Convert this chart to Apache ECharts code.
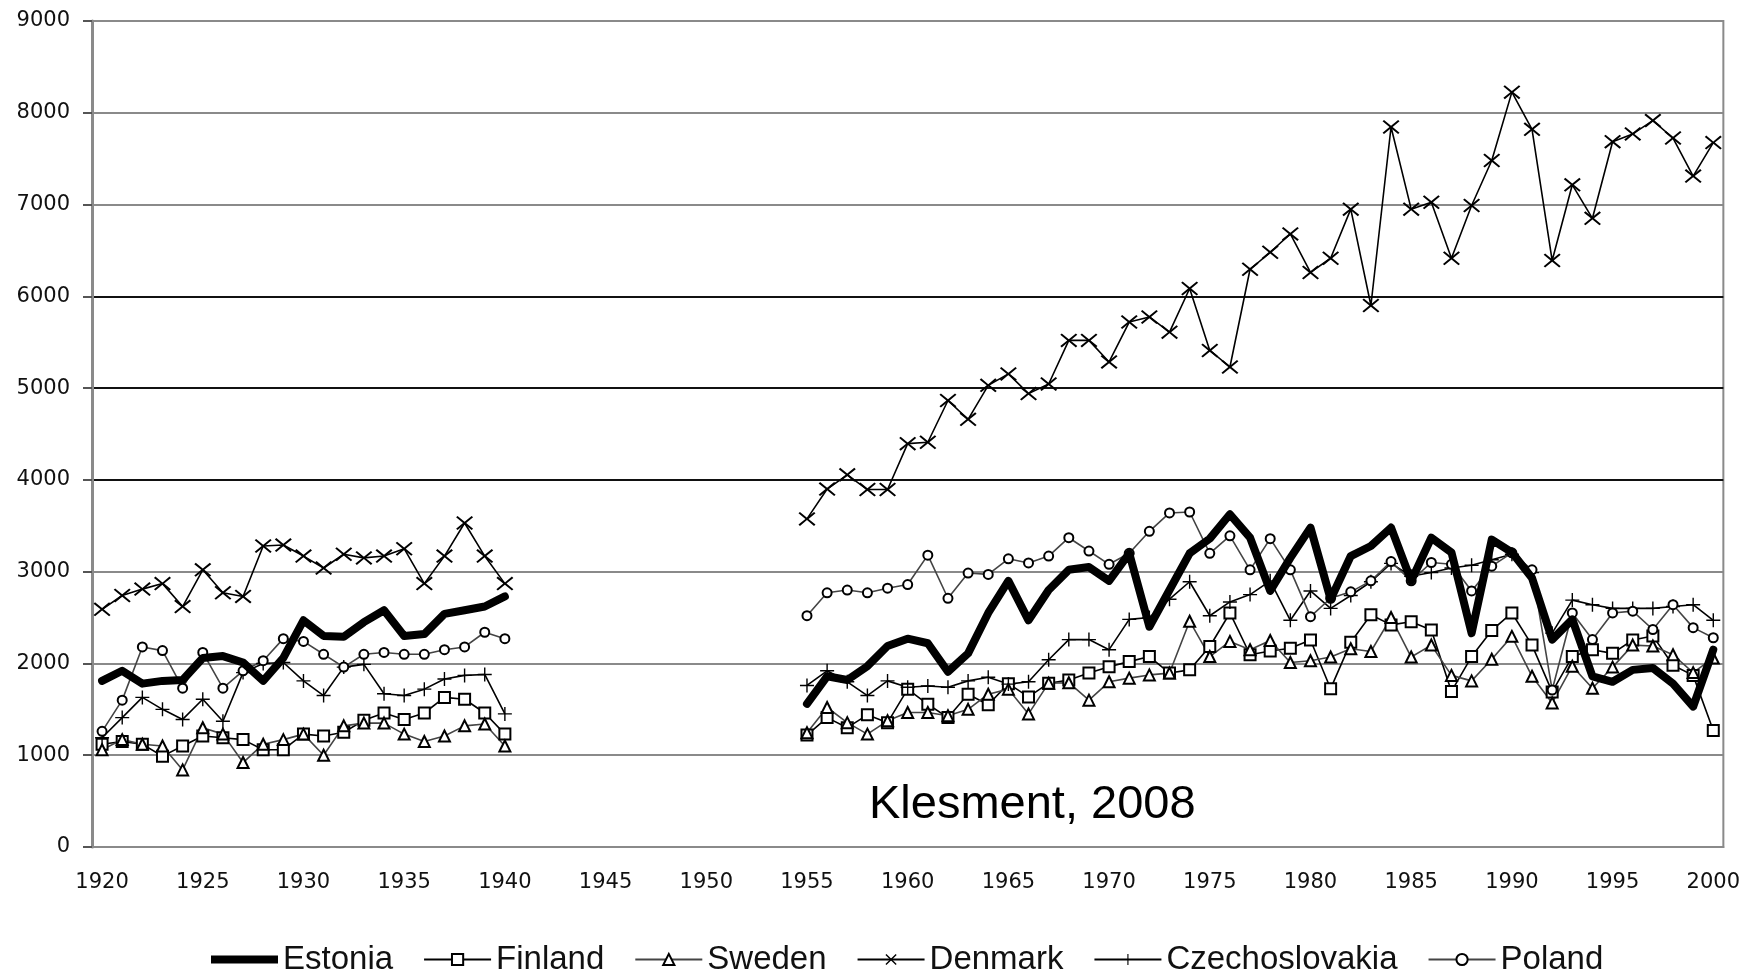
<!DOCTYPE html>
<html>
<head>
<meta charset="utf-8">
<title>Klesment 2008</title>
<script src="https://cdn.jsdelivr.net/npm/echarts@6/dist/echarts.min.js"></script>
<style>
  html, body { margin: 0; padding: 0; background: #fff; }
  #main { width: 1743px; height: 970px; }
</style>
</head>
<body>
<div id="main"></div>
<script>
'use strict';

// years on the category axis, 1920 - 2000
var firstYear = 1920;
var lastYear = 2000;
var yTicks = [0, 1000, 2000, 3000, 4000, 5000, 6000, 7000, 8000, 9000];

// 1920 - 1940
var estoniaPre = [1810, 1920, 1780, 1810, 1820, 2060, 2080, 2010, 1810, 2060, 2470, 2300, 2290, 2450, 2580, 2300, 2320, 2540, 2580, 2620, 2730];
var finlandPre = [1120, 1150, 1120, 990, 1100, 1210, 1190, 1170, 1060, 1060, 1230, 1210, 1250, 1380, 1460, 1390, 1460, 1630, 1610, 1460, 1230];
var swedenPre = [1060, 1170, 1120, 1100, 840, 1300, 1230, 920, 1120, 1170, 1230, 1000, 1320, 1350, 1350, 1230, 1150, 1210, 1320, 1340, 1100];
var denmarkPre = [2590, 2740, 2810, 2870, 2620, 3020, 2770, 2730, 3280, 3290, 3170, 3040, 3190, 3150, 3170, 3250, 2870, 3170, 3530, 3170, 2870];
var czechPre = [1190, 1410, 1630, 1500, 1390, 1610, 1370, 1900, 2000, 2010, 1810, 1650, 1960, 1990, 1670, 1650, 1720, 1830, 1870, 1880, 1450];
var polandPre = [1260, 1600, 2180, 2140, 1730, 2120, 1730, 1920, 2030, 2270, 2240, 2100, 1960, 2100, 2120, 2100, 2100, 2150, 2180, 2340, 2270];

// 1955 - 2000
var estoniaPost = [1560, 1860, 1820, 1970, 2190, 2270, 2220, 1910, 2110, 2550, 2900, 2470, 2800, 3020, 3050, 2900, 3200, 2400, 2800, 3200,
    3360, 3625, 3370, 2790, 3150, 3480, 2700, 3170, 3280, 3480, 2900, 3370, 3210, 2330, 3350, 3210, 2930, 2260, 2480, 1860,
    1800, 1930, 1950, 1780, 1530, 2150];
var finlandPost = [1220, 1410, 1300, 1440, 1355, 1720, 1555, 1410, 1665, 1550, 1780, 1635, 1785, 1820, 1895, 1965, 2020, 2075, 1895, 1930,
    2185, 2550, 2095, 2135, 2165, 2255, 1725, 2230, 2530, 2420, 2455, 2365, 1695, 2075, 2360, 2550, 2200, 1690, 2075, 2150,
    2110, 2255, 2300, 1980, 1870, 1270];
var swedenPost = [1245, 1520, 1355, 1230, 1375, 1465, 1465, 1430, 1500, 1665, 1720, 1450, 1785, 1790, 1600, 1800, 1840, 1875, 1895, 2460,
    2075, 2240, 2150, 2250, 2010, 2030, 2070, 2160, 2130, 2500, 2070, 2200, 1870, 1810, 2045, 2295, 1860, 1570, 1970, 1730,
    1960, 2200, 2190, 2095, 1900, 2060];
var denmarkPost = [3575, 3900, 4055, 3895, 3895, 4395, 4410, 4865, 4660, 5030, 5155, 4940, 5045, 5520, 5520, 5285, 5720, 5775, 5610, 6085,
    5410, 5230, 6295, 6480, 6680, 6260, 6415, 6950, 5900, 7845, 6950, 7025, 6415, 6990, 7480, 8225, 7820, 6390, 7215, 6850,
    7685, 7770, 7915, 7725, 7310, 7675];
var czechPost = [1760, 1920, 1800, 1650, 1810, 1740, 1755, 1740, 1810, 1850, 1775, 1800, 2040, 2260, 2260, 2150, 2480, 2500, 2700, 2890,
    2520, 2670, 2750, 2900, 2470, 2790, 2600, 2740, 2890, 3090, 2950, 2990, 3040, 3070, 3130, 3190, 2990, 2330, 2690, 2640,
    2600, 2600, 2600, 2620, 2640, 2470];
var polandPost = [2520, 2770, 2800, 2770, 2820, 2860, 3180, 2710, 2985, 2970, 3140, 3095, 3170, 3370, 3225, 3080, 3200, 3440, 3640, 3650,
    3200, 3390, 3020, 3360, 3020, 2510, 2710, 2780, 2900, 3110, 2900, 3100, 3080, 2790, 3060, 3205, 3020, 1710, 2550, 2260,
    2550, 2570, 2370, 2640, 2390, 2280];

var FONT = 'Liberation Sans, Arial, sans-serif';
var TICK_FONT = 'DejaVu Sans, Verdana, sans-serif';
var crossPath = 'path://M0,1.2L1.2,0L7,5.2L12.8,0L14,1.2L8.3,6.3L14,11.4L12.8,12.6L7,7.4L1.2,12.6L0,11.4L5.7,6.3Z';
var plusPath = 'path://M6.3,0H7.7V6.3H14V7.7H7.7V14H6.3V7.7H0V6.3H6.3Z';
// thick bar for the Estonia legend key; the two specks keep the box 67 x 14
var barPath = 'path://M0,0H0.2V0.2H0Z M0,3H67V11H0Z M66.8,13.8H67V14H66.8Z';

$main();

function $main() {
    var years = [];
    for (var y = firstYear; y <= lastYear; y++) {
        years.push(String(y));
    }
    var gapLength = 1955 - 1940 - 1;

    // prewar + empty war years + postwar
    function joinPeriods(pre, post) {
        var gap = [];
        for (var i = 0; i < gapLength; i++) {
            gap.push(null);
        }
        return pre.concat(gap, post);
    }

    function lineSeries(name, pre, post, opts) {
        return Object.assign({
            name: name,
            type: 'line',
            data: joinPeriods(pre, post),
            connectNulls: false,
            showAllSymbol: true,
            animation: false,
            itemStyle: { color: '#000', borderWidth: 1.5 },
            lineStyle: { color: '#000', width: 1.6 }
        }, opts);
    }

    // gridline shades as in the scan: outer lines grey, middle lines black
    var gridColors = ['#8a8a8a', '#8a8a8a', '#8a8a8a', '#8a8a8a', '#111', '#111', '#111', '#8a8a8a', '#8a8a8a', '#8a8a8a'];

    var myChart = echarts.init(document.getElementById('main'));
    var option = {
        backgroundColor: '#fff',
        animation: false,
        grid: {
            left: 92,
            right: 18,
            top: 21,
            bottom: 123,
            show: true,
            borderColor: '#8a8a8a',
            borderWidth: 2
        },
        legend: {
            top: 938,
            left: 206,
            itemWidth: 67,
            itemHeight: 14,
            itemGap: 30,
            textStyle: { fontFamily: FONT, fontSize: 33, color: '#111' },
            data: [
                { name: 'Estonia', icon: barPath, itemStyle: { color: '#000' } },
                'Finland', 'Sweden', 'Denmark', 'Czechoslovakia', 'Poland'
            ]
        },
        xAxis: {
            type: 'category',
            data: years,
            boundaryGap: true,
            axisLine: { lineStyle: { color: '#8a8a8a', width: 2 } },
            axisTick: { interval: 0, length: 6, lineStyle: { color: '#333', width: 2 } },
            axisLabel: {
                interval: 4,
                margin: 25,
                fontFamily: TICK_FONT,
                fontSize: 21,
                color: '#111'
            },
            splitLine: { show: false }
        },
        yAxis: {
            type: 'value',
            min: yTicks[0],
            max: yTicks[yTicks.length - 1],
            interval: 1000,
            axisLine: { show: true, lineStyle: { color: '#8a8a8a', width: 3 } },
            axisTick: { show: true, length: 9, lineStyle: { color: '#555', width: 2 } },
            axisLabel: {
                margin: 22,
                fontFamily: TICK_FONT,
                fontSize: 21,
                color: '#111',
                formatter: function(value) {
                    return String(value);
                }
            },
            splitLine: { lineStyle: { color: gridColors, width: 2 } }
        },
        graphic: [{
            type: 'text',
            left: 1034 - 165,
            top: 801 - 19,
            style: {
                text: 'Klesment, 2008',
                fontFamily: FONT,
                fontSize: 47,
                fill: '#000'
            }
        }],
        series: [
            lineSeries('Estonia', estoniaPre, estoniaPost, {
                symbol: 'none',
                z: 4,
                lineStyle: { color: '#000', width: 8, join: 'round', cap: 'round' }
            }),
            lineSeries('Finland', finlandPre, finlandPost, {
                symbol: 'emptyRect',
                symbolSize: 11
            }),
            lineSeries('Sweden', swedenPre, swedenPost, {
                symbol: 'emptyTriangle',
                symbolSize: 11,
                lineStyle: { color: '#444', width: 1.6 }
            }),
            lineSeries('Denmark', denmarkPre, denmarkPost, {
                symbol: crossPath,
                symbolSize: [17, 14],
                itemStyle: { color: '#000', borderWidth: 0 }
            }),
            lineSeries('Czechoslovakia', czechPre, czechPost, {
                symbol: plusPath,
                symbolSize: 14,
                itemStyle: { color: '#000', borderWidth: 0 }
            }),
            lineSeries('Poland', polandPre, polandPost, {
                symbol: 'emptyCircle',
                symbolSize: 9,
                lineStyle: { color: '#444', width: 1.6 }
            })
        ]
    };
    myChart.setOption(option);
}
</script>
</body>
</html>
